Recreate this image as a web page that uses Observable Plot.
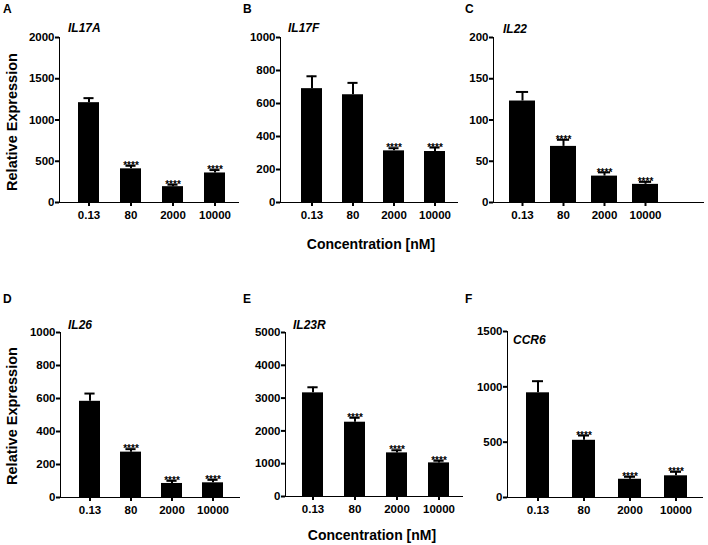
<!DOCTYPE html>
<html>
<head>
<meta charset="utf-8">
<script src="https://cdn.jsdelivr.net/npm/d3@7"></script>
<script src="https://cdn.jsdelivr.net/npm/@observablehq/plot@0.6"></script>
<style>
  html, body { margin: 0; padding: 0; background: #fff; }
  .row { display: flex; width: 708px; }
  .cell { position: relative; flex: none; overflow: hidden; font-family: "Liberation Sans", Arial, sans-serif; color: #000; }
  .pnl { position: absolute; left: 0; top: 0; }
  .cs g[aria-label$="axis tick"], .cs g[aria-label$="axis line"] { stroke-width: 2px; stroke: #000; }
  .lbl { position: absolute; line-height: 1; white-space: nowrap; font-weight: bold; }
  .letter { font-size: 12px; transform: translate(0, -50%); }
  .gene { font-size: 12px; font-style: italic; transform: translate(0, -50%); }
  .xt { font-size: 14px; transform: translate(-50%, -50%); }
  .yt { font-size: 14.5px; transform: translate(-50%, -50%) rotate(-90deg); }
</style>
</head>
<body>
<div class="row" id="row0"></div>
<div class="row" id="row1"></div>
<script>
// ---------- data ----------
const concentrations = ["0.13", "80", "2000", "10000"];
const genes = ["IL17A", "IL17F", "IL22", "IL26", "IL23R", "CCR6"];
const panelLetters = ["A", "B", "C", "D", "E", "F"];
const yAxisTitle = "Relative Expression";
const xAxisTitle = "Concentration [nM]";

const il17aMean = [1210, 408, 192, 358];
const il17aSem  = [55, 37, 24, 35];
const il17aSig  = ["", "****", "****", "****"];
const il17aTicks = [0, 500, 1000, 1500, 2000];

const il17fMean = [690, 653, 313, 309];
const il17fSem  = [75, 72, 16, 24];
const il17fSig  = ["", "", "****", "****"];
const il17fTicks = [0, 200, 400, 600, 800, 1000];

const il22Mean = [123, 68, 32, 22];
const il22Sem  = [11, 8, 4.5, 3];
const il22Sig  = ["", "****", "****", "****"];
const il22Ticks = [0, 50, 100, 150, 200];

const il26Mean = [583, 275, 85, 89];
const il26Sem  = [47, 18, 16, 18];
const il26Sig  = ["", "****", "****", "****"];
const il26Ticks = [0, 200, 400, 600, 800, 1000];

const il23rMean = [3160, 2265, 1330, 1025];
const il23rSem  = [170, 135, 80, 65];
const il23rSig  = ["", "****", "****", "****"];
const il23rTicks = [0, 1000, 2000, 3000, 4000, 5000];

const ccr6Mean = [946, 517, 165, 196];
const ccr6Sem  = [105, 43, 22, 36];
const ccr6Sig  = ["", "****", "****", "****"];
const ccr6Ticks = [0, 500, 1000, 1500];

// ---------- layout (positions only, relative to each cell) ----------
const layouts = [
  {row: 0, width: 240, height: 260, ml: 59, mr: 2, mt: 37, mb: 58, pi: 0.5,  po: 0.38, al: 0.6},
  {row: 0, width: 222, height: 260, ml: 40, mr: 5, mt: 37, mb: 58, pi: 0.5,  po: 0.36, al: 0.63},
  {row: 0, width: 246, height: 260, ml: 31, mr: 5, mt: 37, mb: 58, pi: 0.36, po: 0.71, al: 0.27},
  {row: 1, width: 240, height: 285, ml: 60, mr: 0, mt: 72, mb: 48, pi: 0.5,  po: 0.41, al: 0.53},
  {row: 1, width: 223, height: 285, ml: 45, mr: 0, mt: 72, mb: 49, pi: 0.51, po: 0.37, al: 0.55},
  {row: 1, width: 245, height: 285, ml: 44, mr: 6, mt: 71, mb: 48, pi: 0.5,  po: 0.36, al: 0.545}
];
const letterPos = [[3, 9], [3, 9], [3, 9], [3, 39], [3, 39], [2, 39]];
const genePos = [[68, 28], [48, 28], [41, 29], [68, 65], [53, 65], [50, 80]];
const yTitlePos = {0: [12, 122], 3: [12, 156]};
const xTitlePos = {1: [131, 244], 4: [132, 275]};

const panels = [
  [il17aMean, il17aSem, il17aSig, il17aTicks],
  [il17fMean, il17fSem, il17fSig, il17fTicks],
  [il22Mean, il22Sem, il22Sig, il22Ticks],
  [il26Mean, il26Sem, il26Sig, il26Ticks],
  [il23rMean, il23rSem, il23rSig, il23rTicks],
  [ccr6Mean, ccr6Sem, ccr6Sig, ccr6Ticks]
];

function addLabel(cell, cls, text, [x, y]) {
  const d = document.createElement("div");
  d.className = "lbl " + cls;
  d.textContent = text;
  d.style.left = x + "px";
  d.style.top = y + "px";
  cell.appendChild(d);
}

panels.forEach(([means, sems, sigs, ticks], k) => {
  const L = layouts[k];
  const data = concentrations.map((c, i) => ({c, m: means[i], top: means[i] + sems[i], s: sigs[i]}));
  const frameW = L.width - L.ml - L.mr;
  const step = frameW / (concentrations.length - L.pi + 2 * L.po);
  const bw = step * (1 - L.pi);
  const capInset = bw * 0.26;
  const chart = Plot.plot({
    width: L.width,
    height: L.height,
    marginLeft: L.ml,
    marginRight: L.mr,
    marginTop: L.mt,
    marginBottom: L.mb,
    style: {fontFamily: "Liberation Sans", fontSize: "11.5px", fontWeight: "bold", color: "#000", background: "transparent", overflow: "visible"},
    x: {domain: concentrations, paddingInner: L.pi, paddingOuter: L.po, align: L.al,
        tickSize: 4, tickPadding: 4, label: null, line: true},
    y: {domain: [0, ticks[ticks.length - 1]], ticks: ticks, tickFormat: d => String(d),
        tickSize: 4, tickPadding: 1, label: null, line: true},
    marks: [
      Plot.barY(data, {x: "c", y: "m", fill: "#000"}),
      Plot.ruleX(data, {x: "c", y1: "m", y2: "top", stroke: "#000", strokeWidth: 2}),
      Plot.tickY(data, {x: "c", y: "top", stroke: "#000", strokeWidth: 2, insetLeft: capInset, insetRight: capInset}),
      Plot.text(data, {x: "c", y: "top", text: "s", fontSize: 10, fontWeight: "bold", lineAnchor: "middle", fill: "#000"})
    ]
  });
  chart.classList.add("pnl");
  chart.classList.add("cs");
  chart.style.left = "0px";
  chart.style.top = "0px";
  const cell = document.createElement("div");
  cell.className = "cell";
  cell.style.width = L.width + "px";
  cell.style.height = L.height + "px";
  cell.appendChild(chart);
  addLabel(cell, "letter", panelLetters[k], letterPos[k]);
  addLabel(cell, "gene", genes[k], genePos[k]);
  if (yTitlePos[k]) addLabel(cell, "yt", yAxisTitle, yTitlePos[k]);
  if (xTitlePos[k]) addLabel(cell, "xt", xAxisTitle, xTitlePos[k]);
  document.getElementById("row" + L.row).appendChild(cell);
});
</script>
</body>
</html>
